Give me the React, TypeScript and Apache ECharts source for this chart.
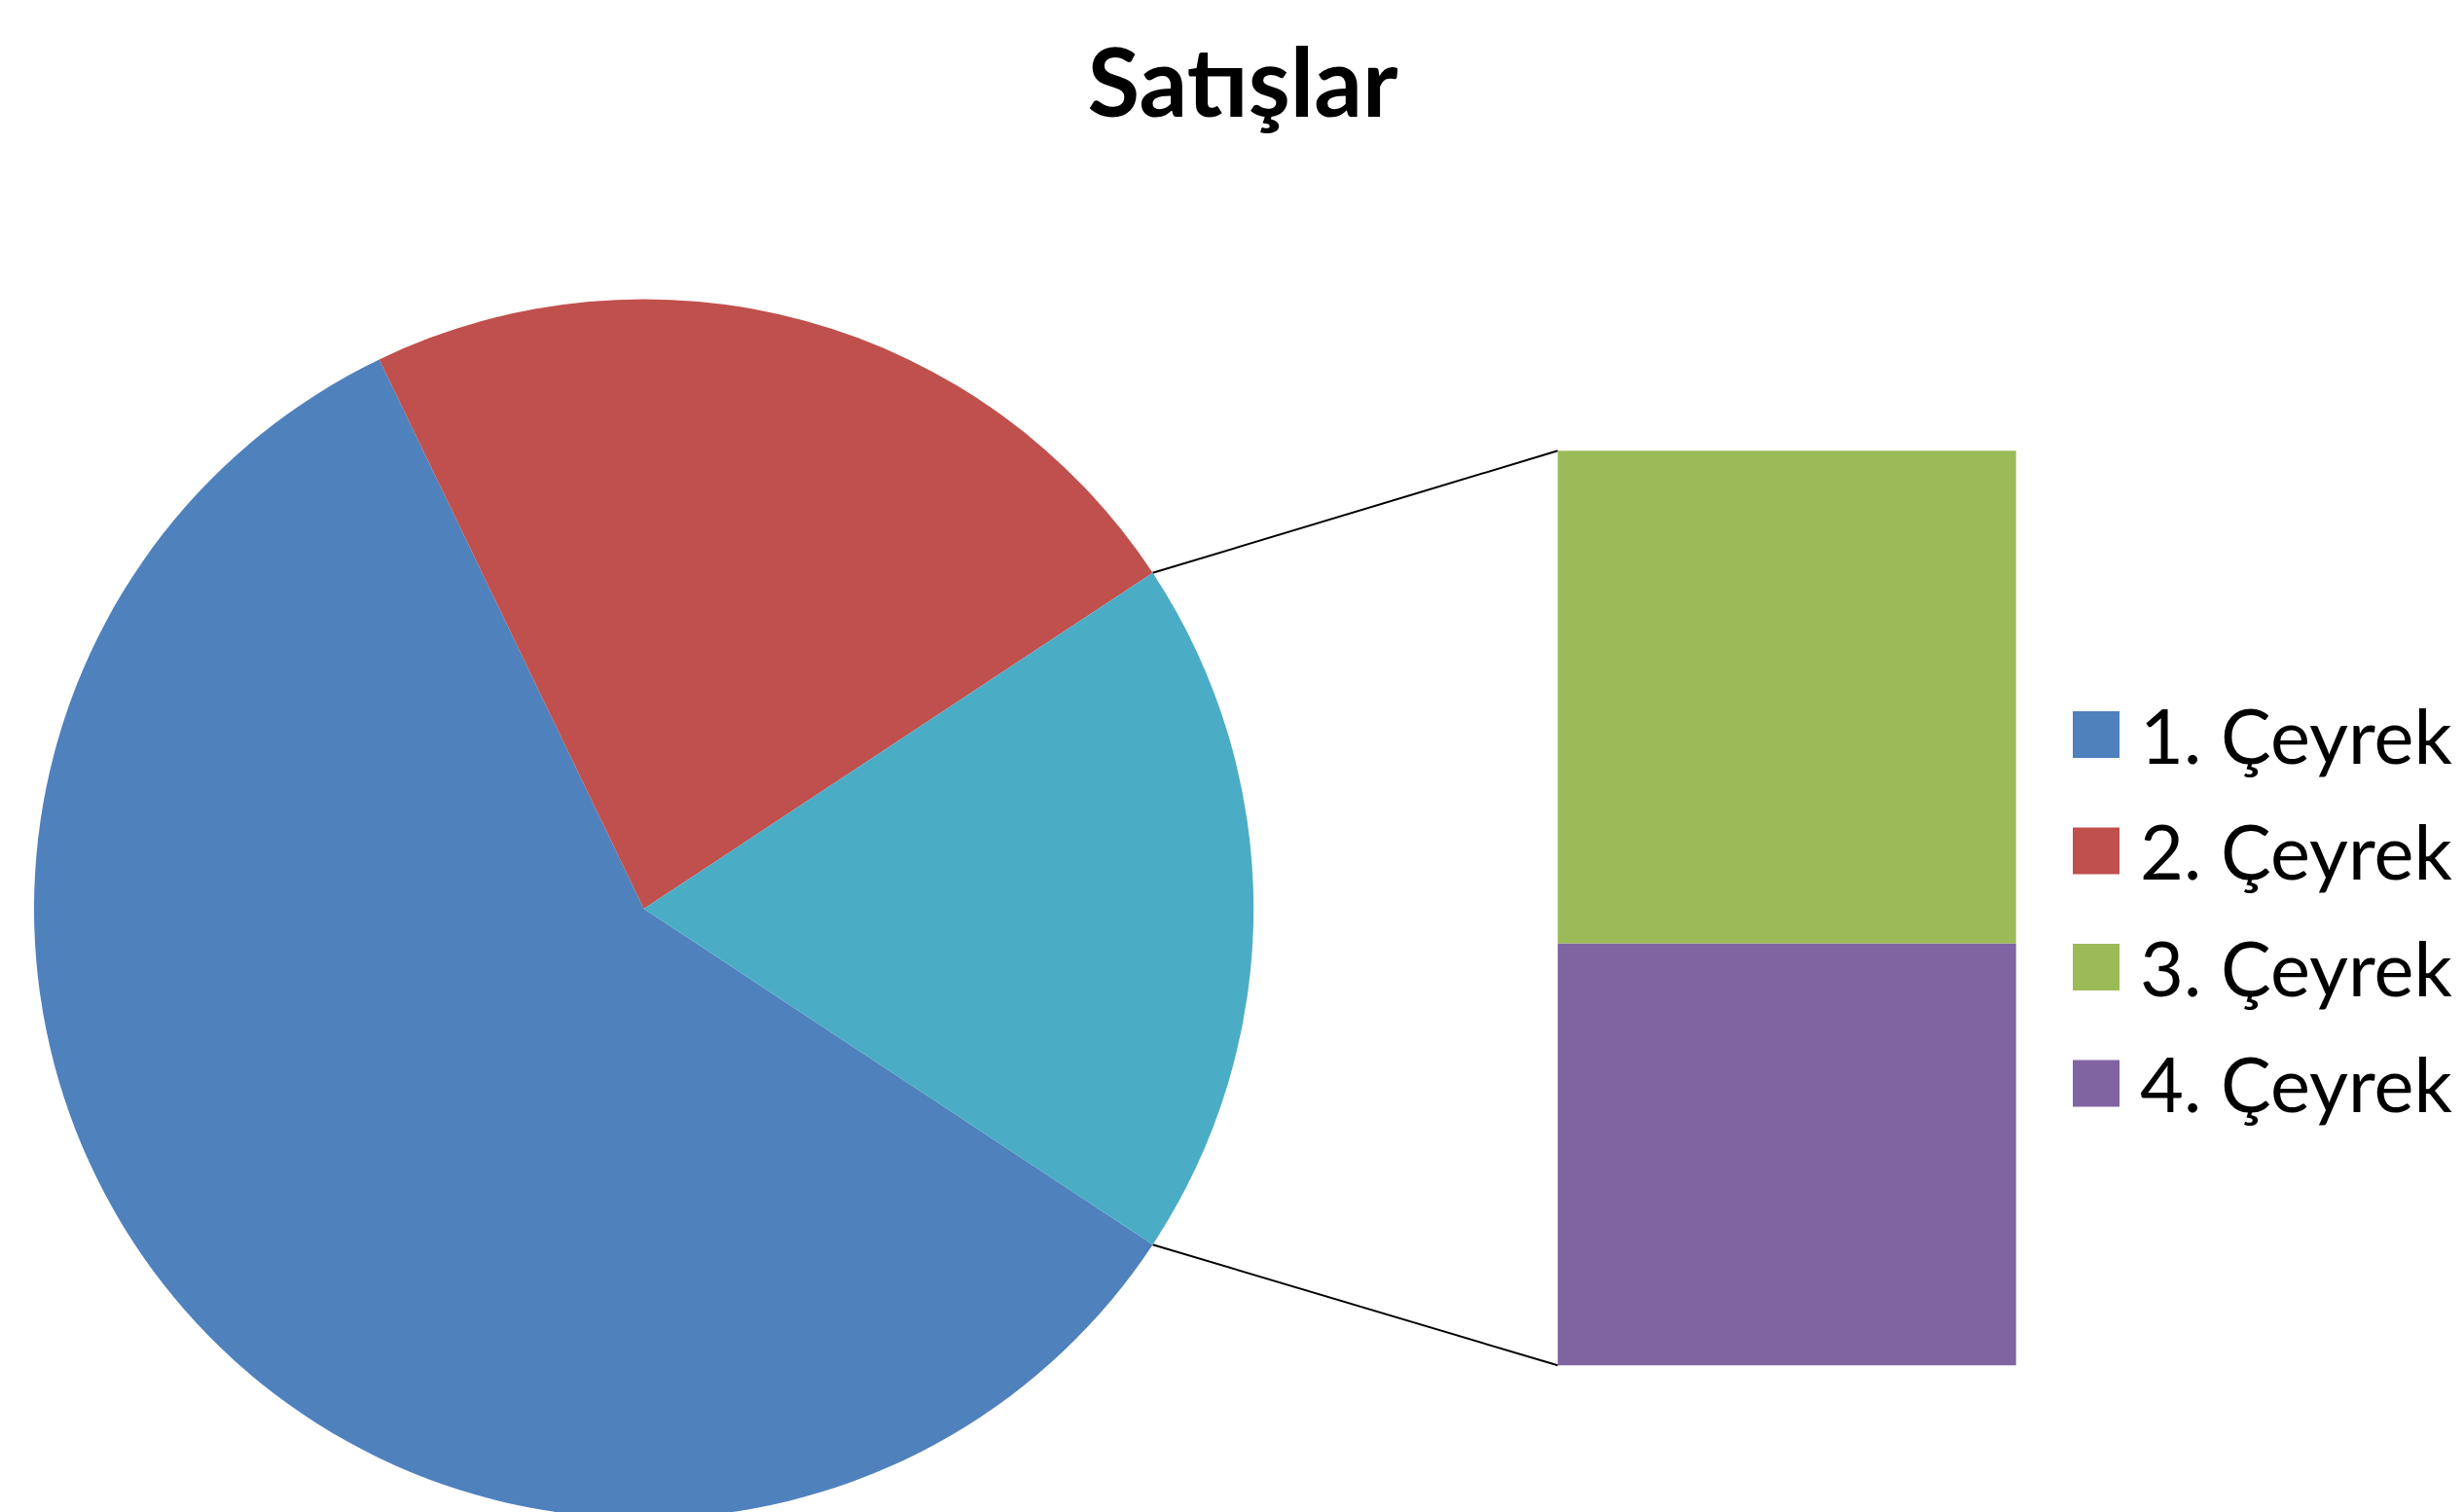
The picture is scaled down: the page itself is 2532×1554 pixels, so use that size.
import React, { useEffect, useRef } from "react";
import * as echarts from "echarts";

const title = "Satışlar";
const categories = ["1. Çeyrek", "2. Çeyrek", "3. Çeyrek", "4. Çeyrek"];
const sales = [8.2, 3.2, 1.4, 1.2];
const otherName = "Diğer";
const colors = ["#4F81BD", "#C0504D", "#9BBB59", "#8064A2"];
const otherColor = "#4BACC6";

export default function App() {
  const ref = useRef<HTMLDivElement>(null);
  useEffect(() => {
    document.body.style.margin = "0";
    if (!ref.current) return;
    const chart = echarts.init(ref.current, null, { renderer: "svg" });

    const total = sales.reduce((a, b) => a + b, 0);
    const other = sales[2] + sales[3];
    const half = (other / total) * 180;

    const cx = 661.6;
    const cy = 934;
    const R = 626.6;
    const gLeft = 1600.7;
    const gTop = 463.3;
    const gWidth = 471;
    const gHeight = 940;

    const rad = (half * Math.PI) / 180;
    const px = cx + R * Math.cos(rad);
    const pyTop = cy - R * Math.sin(rad);
    const pyBot = cy + R * Math.sin(rad);

    const font = "Lato, 'Noto Sans', sans-serif";

    chart.setOption({
      animation: false,
      backgroundColor: "#ffffff",
      legend: {
        orient: "vertical",
        left: 2130,
        top: 716,
        padding: 0,
        icon: "rect",
        itemWidth: 48,
        itemHeight: 48,
        itemGap: 41.5,
        itemTextGap: 5,
        data: categories,
        selectedMode: false,
        textStyle: { fontFamily: font, fontSize: 77.5, color: "#000000", padding: [0, 0, 0, 16] },
        itemStyle: { borderWidth: 0 },
      },
      grid: { left: gLeft, top: gTop, width: gWidth, height: gHeight },
      xAxis: { type: "category", data: [otherName], show: false },
      yAxis: { type: "value", min: 0, max: other, show: false },
      series: [
        {
          type: "pie",
          center: [cx, cy],
          radius: R,
          startAngle: 360 - half,
          clockwise: true,
          label: { show: false },
          labelLine: { show: false },
          emphasis: { disabled: true },
          data: [
            { name: categories[0], value: sales[0], itemStyle: { color: colors[0] } },
            { name: categories[1], value: sales[1], itemStyle: { color: colors[1] } },
            { name: otherName, value: other, itemStyle: { color: otherColor } },
          ],
        },
        {
          type: "bar",
          name: categories[3],
          stack: "other",
          barWidth: "100%",
          itemStyle: { color: colors[3] },
          data: [sales[3]],
        },
        {
          type: "bar",
          name: categories[2],
          stack: "other",
          barWidth: "100%",
          itemStyle: { color: colors[2] },
          data: [sales[2]],
        },
      ],
      graphic: [
        {
          type: "text",
          x: 1277,
          y: 82,
          style: {
            text: title,
            font: `bold 98px ${font}`,
            fill: "#000000",
            textAlign: "center",
            textVerticalAlign: "middle",
          },
        },
        {
          type: "line",
          shape: { x1: px, y1: pyTop, x2: gLeft, y2: gTop },
          style: { stroke: "#000000", lineWidth: 2 },
        },
        {
          type: "line",
          shape: { x1: px, y1: pyBot, x2: gLeft, y2: gTop + gHeight },
          style: { stroke: "#000000", lineWidth: 2 },
        },
      ],
    });
    return () => chart.dispose();
  }, []);
  return <div ref={ref} style={{ width: 2532, height: 1554 }} />;
}
